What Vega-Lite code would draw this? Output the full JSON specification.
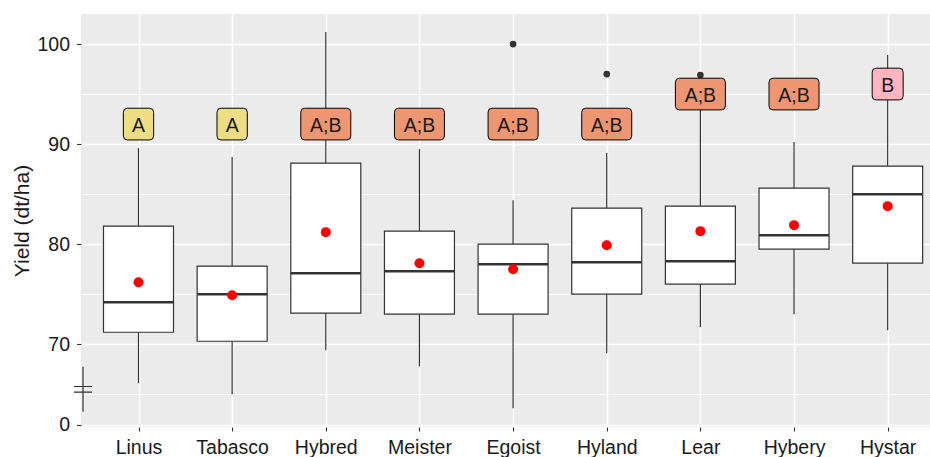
{
  "$schema": "https://vega.github.io/schema/vega-lite/v6.json",
  "width": 849,
  "height": 413,
  "autosize": {"type": "none"},
  "padding": {"left": 81, "top": 14, "right": 0, "bottom": 30},
  "background": "white",
  "config": {
    "view": {"fill": "#EBEBEB", "stroke": null},
    "font": "Liberation Sans",
    "axis": {
      "domain": false,
      "tickColor": "#333333",
      "tickWidth": 1.1,
      "tickSize": 4.5,
      "labelColor": "#1a1a1a",
      "labelFontSize": 19.5,
      "labelFont": "Liberation Sans",
      "gridColor": "#FFFFFF",
      "titleFont": "Liberation Sans",
      "titleFontWeight": "normal",
      "titleColor": "#1a1a1a"
    }
  },
  "datasets": {
    "boxes": [
      {"variety": "Linus", "lower": 66.1, "q1": 71.2, "median": 74.2, "q3": 81.8, "upper": 89.6, "mean": 76.2, "letter": "A", "letter_y": 92.0},
      {"variety": "Tabasco", "lower": 65.0, "q1": 70.3, "median": 75.0, "q3": 77.8, "upper": 88.7, "mean": 74.9, "letter": "A", "letter_y": 92.0},
      {"variety": "Hybred", "lower": 69.4, "q1": 73.1, "median": 77.1, "q3": 88.1, "upper": 101.2, "mean": 81.2, "letter": "A;B", "letter_y": 92.0},
      {"variety": "Meister", "lower": 67.8, "q1": 73.0, "median": 77.3, "q3": 81.3, "upper": 89.5, "mean": 78.1, "letter": "A;B", "letter_y": 92.0},
      {"variety": "Egoist", "lower": 63.6, "q1": 73.0, "median": 78.0, "q3": 80.0, "upper": 84.4, "mean": 77.5, "letter": "A;B", "letter_y": 92.0},
      {"variety": "Hyland", "lower": 69.1, "q1": 75.0, "median": 78.2, "q3": 83.6, "upper": 89.1, "mean": 79.9, "letter": "A;B", "letter_y": 92.0},
      {"variety": "Lear", "lower": 71.7, "q1": 76.0, "median": 78.3, "q3": 83.8, "upper": 93.5, "mean": 81.3, "letter": "A;B", "letter_y": 95.0},
      {"variety": "Hybery", "lower": 73.0, "q1": 79.5, "median": 80.9, "q3": 85.6, "upper": 90.2, "mean": 81.9, "letter": "A;B", "letter_y": 95.0},
      {"variety": "Hystar", "lower": 71.4, "q1": 78.1, "median": 85.0, "q3": 87.8, "upper": 98.9, "mean": 83.8, "letter": "B", "letter_y": 96.0}
    ],
    "outliers": [
      {"variety": "Egoist", "value": 100.0},
      {"variety": "Hyland", "value": 97.0},
      {"variety": "Lear", "value": 96.9}
    ]
  },
  "data": {"name": "boxes"},
  "encoding": {
    "x": {
      "field": "variety",
      "type": "nominal",
      "scale": {
        "type": "point",
        "domain": ["Linus", "Tabasco", "Hybred", "Meister", "Egoist", "Hyland", "Lear", "Hybery", "Hystar"],
        "padding": 0.533,
        "align": 0.576,
        "round": false
      },
      "axis": {"title": null, "grid": true, "gridWidth": 1.5, "labelAngle": 0, "tickSize": 4, "labelPadding": 7}
    }
  },
  "layer": [
    {
      "mark": {"type": "rule", "color": "#333333", "strokeWidth": 1.2},
      "encoding": {
        "y": {
          "field": "lower",
          "type": "quantitative",
          "title": "Yield (dt/ha)",
          "scale": {"domain": [61.73, 103.0], "nice": false, "zero": false},
          "axis": {
            "values": [61.95, 65, 70, 75, 80, 85, 90, 95, 100],
            "labelExpr": "datum.value < 63 ? '0' : (datum.value % 10 == 5 ? '' : datum.label)",
            "gridWidth": {"condition": {"test": "datum.value % 10 == 5", "value": 0.8}, "value": 1.5},
            "tickOpacity": {"condition": {"test": "datum.value % 10 == 5", "value": 0}, "value": 1},
            "labelOverlap": false,
            "labelPadding": 7,
            "titlePadding": 4,
            "titleFontSize": 21
          }
        },
        "y2": {"field": "upper"}
      }
    },
    {
      "mark": {"type": "bar", "fill": "#FFFFFF", "stroke": "#333333", "strokeWidth": 1.2, "size": 70},
      "encoding": {
        "y": {"field": "q1", "type": "quantitative", "title": "Yield (dt/ha)"},
        "y2": {"field": "q3"}
      }
    },
    {
      "mark": {"type": "tick", "color": "#333333", "size": 70, "thickness": 2.5, "opacity": 1},
      "encoding": {
        "y": {"field": "median", "type": "quantitative", "title": "Yield (dt/ha)"}
      }
    },
    {
      "mark": {"type": "point", "shape": "circle", "filled": true, "color": "#FF0000", "size": 100, "opacity": 1},
      "encoding": {
        "y": {"field": "mean", "type": "quantitative", "title": "Yield (dt/ha)"}
      }
    },
    {
      "data": {"name": "outliers"},
      "mark": {"type": "point", "shape": "circle", "filled": true, "color": "#333333", "size": 45, "opacity": 1},
      "encoding": {
        "y": {"field": "value", "type": "quantitative", "title": "Yield (dt/ha)"}
      }
    },
    {
      "mark": {"type": "point", "filled": true, "size": 2500, "stroke": "#000000", "strokeWidth": 1, "opacity": 1},
      "encoding": {
        "y": {"field": "letter_y", "type": "quantitative", "title": "Yield (dt/ha)"},
        "shape": {
          "field": "letter",
          "type": "nominal",
          "legend": null,
          "scale": {
            "domain": ["A", "A;B", "B"],
            "range": [
              "M -0.446,-0.634 L 0.446,-0.634 Q 0.606,-0.634 0.606,-0.474 L 0.606,0.474 Q 0.606,0.634 0.446,0.634 L -0.446,0.634 Q -0.606,0.634 -0.606,0.474 L -0.606,-0.474 Q -0.606,-0.634 -0.446,-0.634 Z",
              "M -0.84,-0.634 L 0.84,-0.634 Q 1,-0.634 1,-0.474 L 1,0.474 Q 1,0.634 0.84,0.634 L -0.84,0.634 Q -1,0.634 -1,0.474 L -1,-0.474 Q -1,-0.634 -0.84,-0.634 Z",
              "M -0.46,-0.634 L 0.46,-0.634 Q 0.62,-0.634 0.62,-0.474 L 0.62,0.474 Q 0.62,0.634 0.46,0.634 L -0.46,0.634 Q -0.62,0.634 -0.62,0.474 L -0.62,-0.474 Q -0.62,-0.634 -0.46,-0.634 Z"
            ]
          }
        },
        "fill": {
          "field": "letter",
          "type": "nominal",
          "legend": null,
          "scale": {"domain": ["A", "A;B", "B"], "range": ["#EEDD82", "#EE9572", "#FFB6C1"]}
        }
      }
    },
    {
      "mark": {"type": "text", "fontSize": 19.5, "font": "Liberation Sans", "color": "#1a1a1a", "align": "center", "baseline": "middle", "dy": 1.5},
      "encoding": {
        "y": {"field": "letter_y", "type": "quantitative", "title": "Yield (dt/ha)"},
        "text": {"field": "letter"}
      }
    },
    {
      "data": {"values": [{}]},
      "mark": {"type": "point", "filled": false, "size": 2025, "stroke": "#333333", "strokeWidth": 1.2, "opacity": 1,
        "shape": "M 0,-1 L 0,1 M -0.4,-0.124 L 0.4,-0.124 M -0.4,0.124 L 0.4,0.124"},
      "encoding": {
        "x": {"value": 2},
        "y": {"datum": 65.5, "type": "quantitative"}
      }
    }
  ]
}
